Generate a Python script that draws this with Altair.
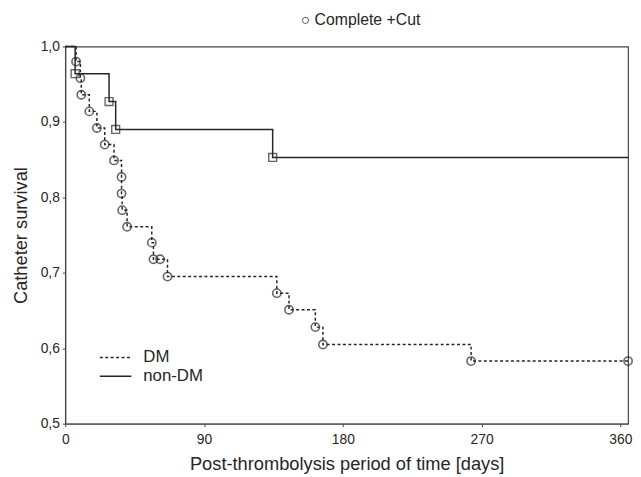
import altair as alt
import pandas as pd

# Kaplan-Meier style survival data
dm_days = [0, 7.0, 9.8, 10.4, 15.6, 20.5, 25.6, 31.6, 36.5, 36.5, 36.9, 40.1, 56.1, 57.2, 61.5, 66.3,
           137.2, 145.1, 162.2, 167.1, 263.2, 365]
dm_surv = [1.0, 0.980, 0.958, 0.936, 0.914, 0.892, 0.870, 0.849, 0.827, 0.805, 0.783, 0.761, 0.740,
           0.718, 0.718, 0.695, 0.673, 0.651, 0.628, 0.605, 0.583, 0.583]

nondm_days = [0, 6.4, 28.4, 32.7, 134.5, 365]
nondm_surv = [1.0, 0.964, 0.927, 0.890, 0.853, 0.853]

groups = ["DM", "non-DM"]
x_ticks = [0, 90, 180, 270, 360]
y_ticks = [0.5, 0.6, 0.7, 0.8, 0.9, 1.0]

FONT = "Liberation Sans"
INK = "#262626"

lines_df = pd.concat([
    pd.DataFrame({"group": groups[0], "day": dm_days, "surv": dm_surv, "order": range(len(dm_days))}),
    pd.DataFrame({"group": groups[1], "day": nondm_days, "surv": nondm_surv, "order": range(len(nondm_days))}),
])
dm_pts = pd.DataFrame({"day": dm_days[1:], "surv": dm_surv[1:]})
nondm_pts = pd.DataFrame({"day": nondm_days[1:-1], "surv": nondm_surv[1:-1]})

xscale = alt.Scale(domain=[0, 365], nice=False)
yscale = alt.Scale(domain=[0.5, 1.0], nice=False)

xaxis = alt.Axis(values=x_ticks, title="Post-thrombolysis period of time [days]", grid=False,
                 labelFontSize=14, titleFontSize=18.5, labelPadding=6, titlePadding=8,
                 tickSize=3, labelFlush=False)
yaxis = alt.Axis(values=y_ticks, title="Catheter survival", grid=False,
                 labelExpr="replace(format(datum.value, '.1f'), '.', ',')",
                 labelFontSize=14, titleFontSize=18.5, labelPadding=3, titlePadding=10, tickSize=3)

base_x = alt.X("day:Q", scale=xscale, axis=xaxis)
base_y = alt.Y("surv:Q", scale=yscale, axis=yaxis)

lines = alt.Chart(lines_df).mark_line(interpolate="step-after", color=INK, strokeWidth=1.5).encode(
    x=base_x, y=base_y,
    order="order:Q",
    strokeDash=alt.StrokeDash("group:N", scale=alt.Scale(domain=groups, range=[[3, 2.5], [1, 0]]),
                              legend=None),
)

circles = alt.Chart(dm_pts).mark_point(shape="circle", filled=False, color=INK, size=70,
                                       strokeWidth=1.6).encode(x="day:Q", y="surv:Q")
squares = alt.Chart(nondm_pts).mark_point(shape="square", filled=False, color=INK, size=64,
                                          strokeWidth=1.4).encode(x="day:Q", y="surv:Q")

# legend drawn inside the plot
leg_dm_line = alt.Chart(pd.DataFrame({"g": [groups[0]]})).mark_rule(
    color=INK, strokeWidth=1.5, strokeDash=[3, 2.5]).encode(
    x=alt.value(35), x2=alt.value(67), y=alt.value(315))
leg_nd_line = alt.Chart(pd.DataFrame({"g": [groups[1]]})).mark_rule(
    color=INK, strokeWidth=1.5).encode(
    x=alt.value(35), x2=alt.value(67), y=alt.value(334))
leg_text = alt.Chart(pd.DataFrame({"g": groups, "yy": [315, 334]})).mark_text(
    align="left", baseline="middle", fontSize=17, font=FONT, color=INK).encode(
    x=alt.value(79), y=alt.Y("yy:Q", scale=None), text="g:N")

chart = alt.layer(lines, circles, squares, leg_dm_line, leg_nd_line, leg_text).properties(
    width=570, height=382,
    title=alt.TitleParams("○   Complete +Cut", fontSize=16, font=FONT, fontWeight="normal",
                          color=INK, offset=12, anchor="middle", dx=14),
    autosize=alt.AutoSizeParams(type="none"),
    padding={"left": 58, "top": 36, "right": 5, "bottom": 50},
).configure_view(stroke="#444", strokeWidth=1.2).configure_axis(
    labelFont=FONT, titleFont=FONT, labelColor=INK, titleColor=INK,
    domainColor="#444", tickColor="#444", titleFontWeight="normal",
)

chart.save("out.html", embed_options={"renderer": "svg", "actions": False})
